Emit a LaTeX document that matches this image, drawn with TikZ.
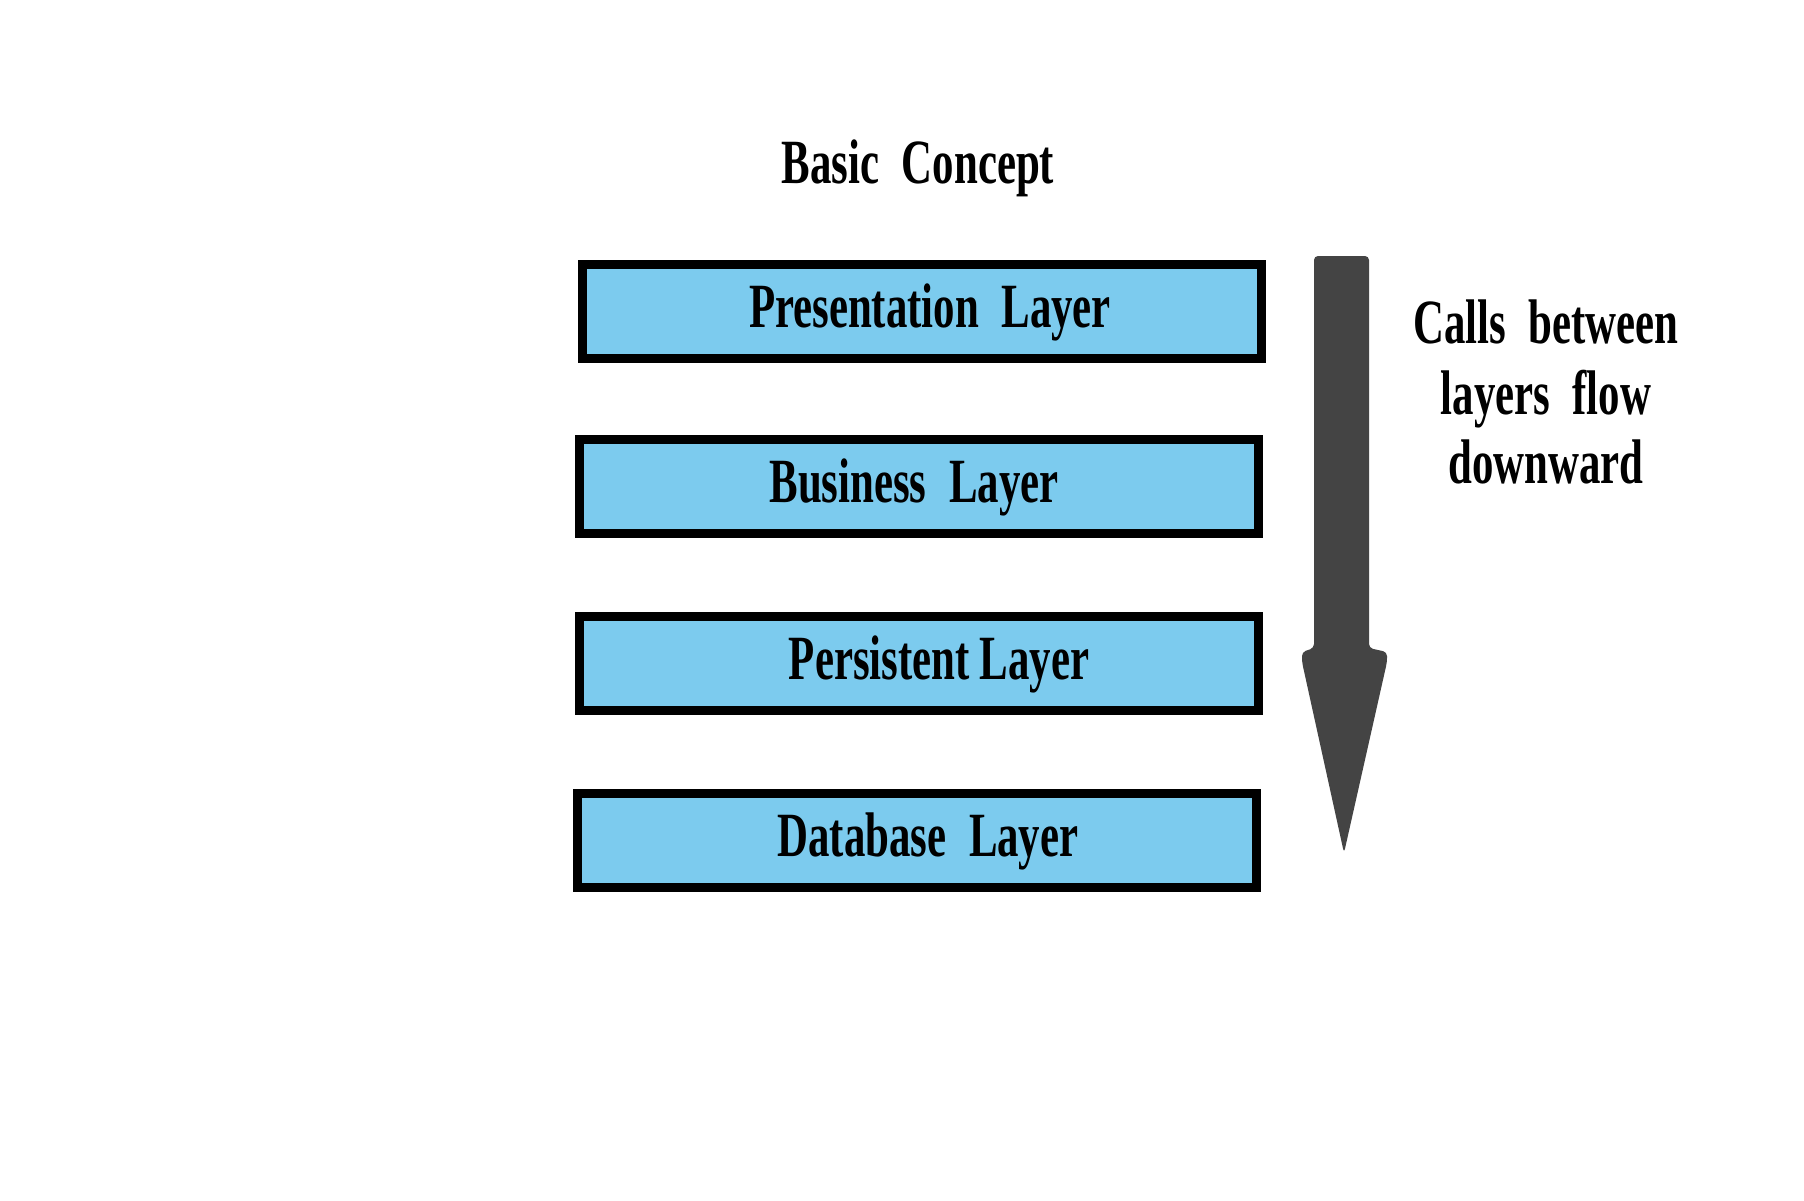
\documentclass[tikz,border=0pt]{standalone}
\usepackage{fontspec}
\newfontfamily\condfont[FakeStretch=0.68,WordSpace=2.1]{Liberation Serif}
\definecolor{layerblue}{HTML}{7CCBEE}
\definecolor{arrowgray}{HTML}{444444}
\begin{document}
\begin{tikzpicture}[x=0.5pt,y=-0.5pt,
  layerbox/.style={draw=black, fill=layerblue, line width=4.75pt, inner sep=0pt,
    minimum width=339.5pt, minimum height=47pt},
  plain/.style={inner sep=0pt, font=\condfont\bfseries\fontsize{31.5}{36}\selectfont}]
\useasboundingbox (0,0) rectangle (1804,1200);
\fill[white] (0,0) rectangle (1804,1200);
\node[plain, anchor=base] (title) at (918,183) {Basic Concept};
\node[layerbox] (pres) at (922,311.5) {};
\node[layerbox] (bus) at (919,486.5) {};
\node[layerbox] (pers) at (919,663.5) {};
\node[layerbox] (db) at (917,840.5) {};
\node[plain] (prest) at (930,312) {Presentation Layer};
\node[plain] (bust) at (914,487) {Business Layer};
\node[plain] (perst) at (939,664) {Persistent\kern5pt Layer};
\node[plain] (dbt) at (928,841) {Database Layer};
\fill[arrowgray, rounded corners=2pt] (1314,256) -- (1369,256) -- (1369,648) -- (1387,652) -- (1387,662)
  -- (1344,853) -- (1302,662) -- (1302,652) -- (1314,648) -- cycle;
\node[plain, anchor=base] (c1) at (1546,343) {Calls between};
\node[plain, anchor=base] (c2) at (1546,414) {layers flow};
\node[plain, anchor=base] (c3) at (1546,483) {downward};
\end{tikzpicture}
\end{document}
